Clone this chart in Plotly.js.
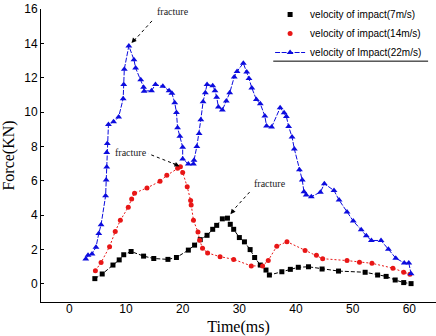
<!DOCTYPE html>
<html>
<head>
<meta charset="utf-8">
<script src="https://cdn.plot.ly/plotly-3.0.1.min.js"></script>
<style>
  html, body { margin: 0; padding: 0; background: #fff; }
  #chart { width: 436px; height: 336px; }
</style>
</head>
<body>
<div id="chart"></div>
<script>
// Impact force histories for three impact velocities
const seriesNames = [
  'velocity of impact(7m/s)',
  'velocity of impact(14m/s)',
  'velocity of Impact(22m/s)'
];

const time7 = [4.5, 5.8, 7.7, 8.8, 9.6, 10.9, 13.1, 14.9, 17.4, 18.9, 21.0, 22.1, 23.1, 24.3, 25.3, 26.0, 27.0, 27.9, 28.4, 29.0, 30.0, 30.9, 31.9, 32.7, 33.7, 34.7, 35.3, 37.5, 39.0, 40.4, 42.2, 44.6, 47.5, 52.2, 54.4, 55.9, 57.5, 59.0, 60.3];
const force7 = [0.31, 0.58, 1.10, 1.40, 1.70, 1.89, 1.62, 1.48, 1.43, 1.54, 1.97, 2.26, 2.58, 2.83, 3.18, 3.41, 3.79, 3.83, 3.47, 3.18, 2.70, 2.45, 2.00, 1.54, 1.10, 0.81, 0.52, 0.71, 0.85, 0.97, 1.00, 0.87, 0.75, 0.68, 0.52, 0.44, 0.23, 0.08, 0.02];

const time14 = [4.6, 5.6, 7.1, 8.1, 9.0, 10.4, 11.0, 11.5, 13.7, 16.0, 17.2, 19.1, 19.6, 20.0, 20.8, 21.4, 21.5, 21.9, 22.7, 23.0, 23.5, 24.4, 26.6, 29.0, 32.1, 34.1, 35.1, 36.6, 38.4, 41.6, 43.6, 44.7, 49.0, 51.2, 53.4, 57.1, 59.0, 60.1];
const force14 = [0.77, 1.25, 2.17, 3.05, 3.70, 4.47, 4.95, 5.28, 5.59, 5.97, 6.32, 6.74, 6.82, 6.49, 5.66, 4.86, 4.60, 3.70, 3.02, 2.54, 2.08, 1.80, 1.59, 1.43, 1.05, 1.05, 1.37, 2.19, 2.46, 1.95, 1.67, 1.47, 1.36, 1.26, 1.20, 0.92, 0.68, 0.56];

const time22 = [2.9, 3.3, 4.0, 4.7, 5.2, 5.6, 6.4, 6.5, 6.6, 6.6, 6.7, 6.9, 7.8, 8.7, 9.5, 9.6, 9.7, 10.5, 11.4, 11.7, 12.6, 13.1, 13.2, 14.5, 15.2, 16.5, 17.6, 18.1, 18.6, 18.9, 19.1, 19.5, 20.0, 20.0, 21.0, 21.9, 22.0, 22.5, 22.9, 23.2, 23.6, 24.0, 24.3, 25.3, 25.7, 26.0, 26.3, 27.0, 27.7, 28.3, 29.1, 29.6, 30.7, 31.3, 31.7, 32.2, 33.0, 33.7, 34.5, 34.8, 35.7, 37.2, 37.9, 38.3, 38.7, 39.3, 39.7, 40.6, 41.1, 41.4, 41.8, 42.7, 44.3, 45.0, 46.7, 47.6, 49.0, 50.1, 51.5, 52.4, 53.3, 55.0, 56.3, 57.6, 59.1, 59.9, 60.3];
const force22 = [1.45, 1.67, 1.75, 2.14, 2.94, 3.45, 5.13, 6.05, 6.80, 7.65, 8.17, 9.28, 9.44, 9.71, 10.78, 11.60, 12.50, 13.85, 13.05, 12.56, 11.89, 11.45, 11.22, 11.25, 11.60, 11.50, 11.25, 11.10, 10.54, 9.98, 9.09, 8.60, 7.96, 7.27, 6.98, 6.98, 7.20, 8.00, 8.75, 9.55, 10.60, 11.12, 11.60, 11.54, 11.25, 10.87, 10.30, 10.12, 10.64, 11.12, 12.05, 12.37, 12.85, 12.33, 11.95, 11.41, 10.73, 10.48, 9.77, 9.19, 9.13, 10.25, 9.96, 9.74, 9.16, 8.55, 7.86, 6.65, 6.05, 5.36, 5.17, 5.08, 5.34, 5.83, 5.44, 4.88, 4.19, 3.66, 3.15, 2.80, 2.53, 2.53, 2.02, 1.50, 1.22, 1.22, 0.60];

const xTicks = [0, 10, 20, 30, 40, 50, 60];
const yTicks = [0, 2, 4, 6, 8, 10, 12, 14, 16];
const noteText = 'fracture';

const BLACK = '#000000';
const RED = 'rgb(232,22,22)';
const BLUE = 'rgb(12,12,222)';

function peakOf(t, f) {
  let k = 0;
  for (let i = 0; i < f.length; i++) if (f[i] >= f[k]) k = i;
  return { x: t[k], y: f[k] };
}

const traces = [
  // connecting lines (kept out of the legend)
  { x: time7, y: force7, mode: 'lines', showlegend: false, hoverinfo: 'skip',
    line: { color: BLACK, width: 1, dash: '4px,2px' } },
  { x: time14, y: force14, mode: 'lines', showlegend: false, hoverinfo: 'skip',
    line: { color: RED, width: 1, dash: '2px,2px' } },
  // point markers
  { x: time7, y: force7, mode: 'markers', name: seriesNames[0],
    marker: { symbol: 'square', size: 5, color: BLACK } },
  { x: time14, y: force14, mode: 'markers', name: seriesNames[1],
    marker: { symbol: 'circle', size: 5, color: RED } },
  { x: time22, y: force22, mode: 'lines+markers', name: seriesNames[2],
    line: { color: BLUE, width: 1, dash: '5px,1.5px' },
    marker: { symbol: 'triangle-up', size: 6, color: BLUE } }
];

const p22 = peakOf(time22, force22);
const p14 = peakOf(time14, force14);
const p7 = peakOf(time7, force7);

// dotted leader from each note towards the peak, plus a small arrow head
function leader(p, x0, y0, x1, y1) {
  return { type: 'line', xref: 'x', yref: 'y', xsizemode: 'pixel', ysizemode: 'pixel',
    xanchor: p.x, yanchor: p.y, x0: x0, y0: y0, x1: x1, y1: y1,
    line: { color: BLACK, width: 1, dash: 'dot' } };
}
function head(p, ax, ay, standoff) {
  return { x: p.x, y: p.y, xref: 'x', yref: 'y', text: '', showarrow: true,
    ax: ax, ay: ay, arrowhead: 2, arrowsize: 1, arrowwidth: 1, arrowcolor: BLACK, standoff: standoff };
}
function note(p, dx, dy) {
  return { x: p.x, y: p.y, xref: 'x', yref: 'y', text: noteText, showarrow: false,
    xshift: dx, yshift: dy,
    font: { family: 'Liberation Serif, Times New Roman, serif', size: 10, color: '#222' } };
}

const layout = {
  width: 436, height: 336,
  margin: { l: 41, r: 0, t: 7, b: 34 },
  paper_bgcolor: '#ffffff', plot_bgcolor: '#ffffff',
  font: { family: 'Liberation Sans, Arial, sans-serif', size: 12, color: '#000' },
  showlegend: true,
  legend: {
    x: 0.58, y: 1.032, xanchor: 'left', yanchor: 'top',
    bgcolor: 'rgba(0,0,0,0)', borderwidth: 0,
    font: { family: 'Liberation Sans, Arial, sans-serif', size: 10, color: '#000' }
  },
  xaxis: {
    range: [-5, 64.7], tickvals: xTicks, ticks: '', showgrid: false, zeroline: false,
    showline: true, linecolor: '#000', linewidth: 1, mirror: false,
    ticklabelstandoff: -4,
    tickfont: { size: 12, color: '#000' },
    title: { text: 'Time(ms)', standoff: 10,
      font: { family: 'Liberation Serif, Times New Roman, serif', size: 16, color: '#000' } }
  },
  yaxis: {
    range: [-1.05, 16], tickvals: yTicks, ticks: 'inside', ticklen: 3, tickcolor: '#000',
    showgrid: false, zeroline: false,
    showline: true, linecolor: '#000', linewidth: 1, mirror: false,
    tickfont: { size: 12, color: '#000' },
    title: { text: 'Force(KN)', standoff: 8,
      font: { family: 'Liberation Serif, Times New Roman, serif', size: 16, color: '#000' } }
  },
  shapes: [
    leader(p22, 5, 5, 24, 26),
    leader(p14, -4, 2, -32, 13),
    leader(p7, 4, 6, 23, 27),
    // rule under the legend block
    { type: 'line', xref: 'paper', yref: 'paper', x0: 0.588, x1: 0.98, y0: 0.822, y1: 0.822,
      line: { color: '#000', width: 1 } }
  ],
  annotations: [
    head(p22, 8, -9, 4),
    head(p14, -9, -4, 1),
    head(p7, 7, -9, 5),
    note(p22, 44, 34),
    note(p14, -49, 14),
    note(p7, 43, 35)
  ]
};

Plotly.newPlot('chart', traces, layout, { displayModeBar: false, staticPlot: true });
</script>
</body>
</html>
